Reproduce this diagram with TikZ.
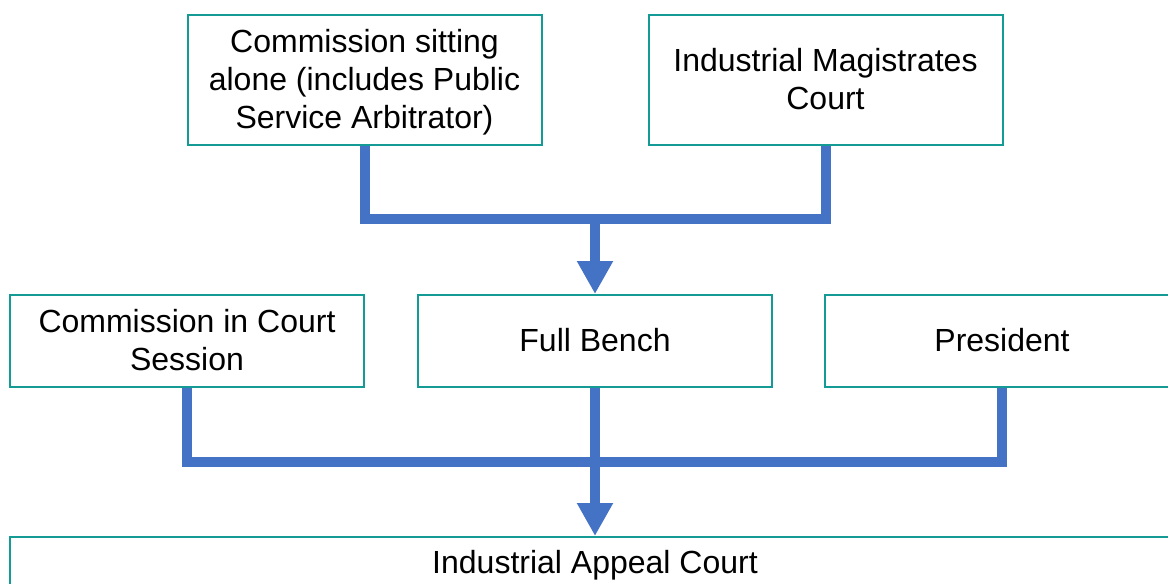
\documentclass[tikz,border=0pt]{standalone}
\usepackage{fontspec}
\setmainfont{Liberation Sans}
\usetikzlibrary{arrows.meta}
\definecolor{boxteal}{RGB}{20,155,150}
\definecolor{linkblue}{RGB}{68,114,196}

\begin{document}
\begin{tikzpicture}[x=0.5pt,y=0.5pt]
        \tikzstyle{every node}+=[inner sep=0pt]
        \tikzstyle{court}=[draw=boxteal, line width=1pt, fill=white, align=center, font=\fontsize{16}{19}\selectfont, minimum width=177pt, minimum height=46pt, text depth=1pt]
        \tikzstyle{link}=[draw=linkblue, line width=5pt]
        \tikzstyle{down}=[-{Triangle[width=17pt,length=16.5pt]}]
        \clip (0,0) rectangle (1168,-584);
        \node [court, minimum height=65pt] (alone) at (364.5,-80) {Commission sitting\\alone (includes Public\\Service Arbitrator)};
        \node [court, minimum height=65pt] (magistrates) at (825.5,-80) {Industrial Magistrates\\Court};
        \node [court] (session) at (187,-341) {Commission in Court\\Session};
        \node [court] (bench) at (595,-341) {Full Bench};
        \node [court] (president) at (1002,-341) {President};
        \node [court, minimum width=585pt, minimum height=26pt] (appeal) at (595,-563) {Industrial Appeal Court};
        \coordinate (upper) at (595,-219);
        \coordinate (lower) at (595,-462);
        \draw [link] (alone.south) |- (upper) -| (magistrates.south);
        \draw [link, down] (upper) -- (bench.north);
        \draw [link] (session.south) |- (lower) -| (president.south);
        \draw [link] (bench.south) -- (lower);
        \draw [link, down] (lower) -- (appeal.north);
\end{tikzpicture}
\end{document}
